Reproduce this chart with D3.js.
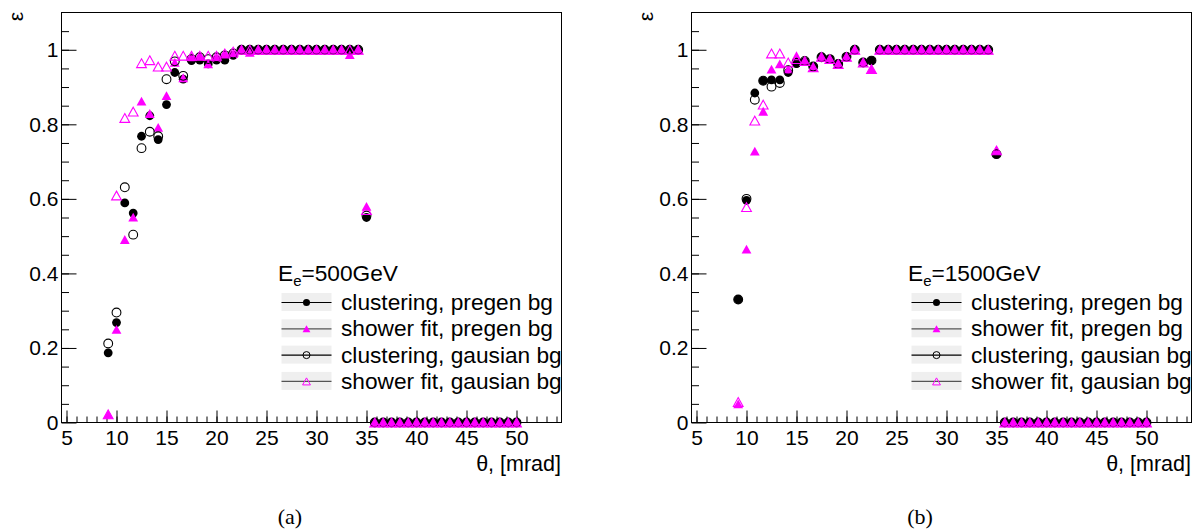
<!DOCTYPE html>
<html>
<head>
<meta charset="utf-8">
<script src="https://cdn.jsdelivr.net/npm/d3@7"></script>
<style>
  body { margin: 0; background: #fff; }
  svg { display: block; font-family: "Liberation Sans", Arial, sans-serif; }
</style>
</head>
<body>
<svg id="chart" width="1200" height="529"></svg>
<script>
// theta bin positions, mrad
const theta = [9.17, 10.00, 10.83, 11.67, 12.50, 13.33, 14.17, 15.00, 15.83, 16.67,
  17.50, 18.33, 19.17, 20.00, 20.83, 21.67, 22.50, 23.33, 24.17, 25.00,
  25.83, 26.67, 27.50, 28.33, 29.17, 30.00, 30.83, 31.67, 32.50, 33.33,
  34.17, 35.00, 35.83, 36.67, 37.50, 38.33, 39.17, 40.00, 40.83, 41.67,
  42.50, 43.33, 44.17, 45.00, 45.83, 46.67, 47.50, 48.33, 49.17, 50.00];

// (a) E_e = 500 GeV
const clusPregen500 = [0.187, 0.268, 0.589, 0.562, 0.768, 0.823, 0.759, 0.853, 0.939, 0.921,
  0.971, 0.972, 0.962, 0.972, 0.972, 0.985, 1, 1, 1, 1,
  1, 1, 1, 1, 1, 1, 1, 1, 1, 1,
  1, 0.55, 0, 0, 0, 0, 0, 0, 0, 0,
  0, 0, 0, 0, 0, 0, 0, 0, 0, 0];
const showerPregen500 = [0.022, 0.25, 0.491, 0.551, 0.862, 0.829, 0.792, 0.877, 0.966, 0.925,
  0.981, 0.984, 0.962, 0.98, 0.99, 0.99, 1, 0.993, 1, 1,
  1, 1, 1, 1, 1, 1, 1, 1, 1, 0.987,
  1, 0.58, 0, 0, 0, 0, 0, 0, 0, 0,
  0, 0, 0, 0, 0, 0, 0, 0, 0, 0];
const clusGaus500 = [0.212, 0.295, 0.631, 0.504, 0.736, 0.780, 0.768, 0.921, 0.969, 0.93,
  0.975, 0.98, 0.975, 0.98, 0.985, 0.99, 1, 1, 1, 1,
  1, 1, 1, 1, 1, 1, 1, 1, 1, 1,
  1, 0.555, 0, 0, 0, 0, 0, 0, 0, 0,
  0, 0, 0, 0, 0, 0, 0, 0, 0, 0];
const showerGaus500 = [0.022, 0.609, 0.817, 0.834, 0.964, 0.972, 0.955, 0.955, 0.984, 0.984,
  0.984, 0.984, 0.984, 0.984, 0.99, 0.995, 1, 1, 1, 1,
  1, 1, 1, 1, 1, 1, 1, 1, 1, 1,
  1, 0.57, 0, 0, 0, 0, 0, 0, 0, 0,
  0, 0, 0, 0, 0, 0, 0, 0, 0, 0];

// (b) E_e = 1500 GeV
const clusPregen1500 = [0.33, 0.596, 0.884, 0.917, 0.919, 0.919, 0.939, 0.963, 0.969, 0.955,
  0.981, 0.975, 0.962, 0.981, 1, 0.966, 0.971, 1, 1, 1,
  1, 1, 1, 1, 1, 1, 1, 1, 1, 1,
  1, 0.72, 0, 0, 0, 0, 0, 0, 0, 0,
  0, 0, 0, 0, 0, 0, 0, 0, 0, 0];
const showerPregen1500 = [0.05, 0.465, 0.728, 0.835, 0.948, 0.962, 0.948, 0.984, 0.97, 0.953,
  0.981, 0.975, 0.962, 0.981, 1, 0.966, 0.948, 1, 1, 1,
  1, 1, 1, 1, 1, 1, 1, 1, 1, 1,
  1, 0.73, 0, 0, 0, 0, 0, 0, 0, 0,
  0, 0, 0, 0, 0, 0, 0, 0, 0, 0];
const clusGaus1500 = [0.33, 0.60, 0.866, 0.917, 0.901, 0.911, 0.945, 0.965, 0.97, 0.955,
  0.98, 0.975, 0.962, 0.981, 1, 0.966, 0.971, 1, 1, 1,
  1, 1, 1, 1, 1, 1, 1, 1, 1, 1,
  1, 0.72, 0, 0, 0, 0, 0, 0, 0, 0,
  0, 0, 0, 0, 0, 0, 0, 0, 0, 0];
const showerGaus1500 = [0.055, 0.578, 0.81, 0.853, 0.99, 0.99, 0.966, 0.975, 0.97, 0.953,
  0.981, 0.975, 0.962, 0.981, 1, 0.966, 0.948, 1, 1, 1,
  1, 1, 1, 1, 1, 1, 1, 1, 1, 1,
  1, 0.73, 0, 0, 0, 0, 0, 0, 0, 0,
  0, 0, 0, 0, 0, 0, 0, 0, 0, 0];

const seriesLabels = ['clustering, pregen bg', 'shower fit, pregen bg', 'clustering, gausian bg', 'shower fit, gausian bg'];
const xTicks = [5, 10, 15, 20, 25, 30, 35, 40, 45, 50];
const yTicks = [0, 0.2, 0.4, 0.6, 0.8, 1];

const MAGENTA = '#ff00ff';
const styles = [
  { shape: 'circle', fill: '#000', stroke: 'none', line: '#000' },
  { shape: 'tri', fill: MAGENTA, stroke: 'none', line: '#555' },
  { shape: 'circle', fill: 'none', stroke: '#000', line: '#000' },
  { shape: 'tri', fill: 'none', stroke: MAGENTA, line: '#555' },
];

const svg = d3.select('#chart');
const W = 500, H = 410;

function markerPath(shape, s) {
  if (shape === 'circle') {
    const r = 4.4 * s;
    return `M${-r},0A${r},${r} 0 1,0 ${r},0A${r},${r} 0 1,0 ${-r},0Z`;
  }
  const hw = 4.9 * s, hh = 4.4 * s;
  return `M0,${-hh}L${hw},${hh}L${-hw},${hh}Z`;
}

function drawPanel(ox, energy, sets, tag) {
  const g = svg.append('g').attr('transform', `translate(${ox},12)`);
  const x = d3.scaleLinear().domain([4.5, 54.5]).range([0.5, W + 0.5]);
  const y = d3.scaleLinear().domain([0, 1.1]).range([H + 0.5, 0.5]);

  // minor ticks
  g.append('g').attr('transform', `translate(0,${H + 0.5})`)
    .call(d3.axisBottom(x).tickValues(d3.range(5, 55, 1)).tickSizeInner(-6).tickSizeOuter(0).tickFormat(''))
    .call(a => a.select('.domain').remove());
  g.append('g').attr('transform', 'translate(0.5,0)')
    .call(d3.axisLeft(y).tickValues(d3.range(0.05, 1.1, 0.05)).tickSizeInner(-7.5).tickSizeOuter(0).tickFormat(''))
    .call(a => a.select('.domain').remove());

  // major ticks
  g.append('g').attr('transform', `translate(0,${H + 0.5})`)
    .call(d3.axisBottom(x).tickValues(xTicks).tickSizeInner(-12).tickSizeOuter(0).tickPadding(8))
    .call(a => a.select('.domain').remove())
    .call(a => a.selectAll('text').attr('font-size', 21).attr('font-family', 'Liberation Sans, Arial, sans-serif').attr('fill', '#000'));
  g.append('g').attr('transform', 'translate(0.5,0)')
    .call(d3.axisLeft(y).tickValues(yTicks).tickSizeInner(-15).tickSizeOuter(0).tickPadding(3)
      .tickFormat(d => d === 0 ? '0' : d === 1 ? '1' : d3.format('.1f')(d)))
    .call(a => a.select('.domain').remove())
    .call(a => a.selectAll('text').attr('font-size', 21).attr('font-family', 'Liberation Sans, Arial, sans-serif').attr('fill', '#000'));

  g.selectAll('.tick line').attr('stroke', '#000');

  // frame
  g.append('rect').attr('x', 0.5).attr('y', 0.5).attr('width', W).attr('height', H)
    .attr('fill', 'none').attr('stroke', '#000').attr('stroke-width', 1);

  // markers
  sets.forEach((vals, si) => {
    const st = styles[si];
    g.append('g').selectAll('path')
      .data(theta.map((t, i) => [t, vals[i]]))
      .join('path')
      .attr('transform', d => `translate(${x(d[0])},${y(d[1])})`)
      .attr('d', markerPath(st.shape, 1))
      .attr('fill', st.fill)
      .attr('stroke', st.stroke)
      .attr('stroke-width', 1.1);
  });

  // legend
  const lg = g.append('g').attr('transform', 'translate(217,0)');
  const head = lg.append('text').attr('x', 0).attr('y', 269).attr('font-size', 22.7).attr('fill', '#000');
  head.append('tspan').text('E');
  head.append('tspan').attr('font-size', 15).attr('dy', 5).text('e');
  head.append('tspan').attr('dy', -5).text('=' + energy + 'GeV');

  seriesLabels.forEach((lab, i) => {
    const cy = 290 + i * 26.3;
    const st = styles[i];
    lg.append('rect').attr('x', 3.5).attr('y', cy - 9).attr('width', 50).attr('height', 18).attr('fill', '#efefef');
    lg.append('line').attr('x1', 3.5).attr('x2', 53.5).attr('y1', cy + 0.5).attr('y2', cy + 0.5)
      .attr('stroke', st.line).attr('stroke-width', 1.2);
    lg.append('path').attr('transform', `translate(28.5,${cy + 0.5})`).attr('d', markerPath(st.shape, 0.8))
      .attr('fill', st.fill).attr('stroke', st.stroke).attr('stroke-width', 1);
    lg.append('text').attr('x', 63).attr('y', cy + 8).attr('font-size', 22.7).attr('fill', '#000').text(lab);
  });

  // axis titles
  g.append('text').attr('transform', `translate(${-45},${4.5}) rotate(-90)`)
    .attr('text-anchor', 'middle').attr('dy', '0.35em').attr('font-size', 21).text('ε');
  g.append('text').attr('x', W).attr('y', 459).attr('text-anchor', 'end').attr('font-size', 21.5).text('θ, [mrad]');

  svg.append('text').attr('x', ox + 229).attr('y', 524)
    .attr('text-anchor', 'middle').attr('font-family', 'Liberation Serif, Times New Roman, serif')
    .attr('font-size', 22).text(tag);
}

drawPanel(61, '500', [clusPregen500, showerPregen500, clusGaus500, showerGaus500], '(a)');
drawPanel(691, '1500', [clusPregen1500, showerPregen1500, clusGaus1500, showerGaus1500], '(b)');
</script>
</body>
</html>
